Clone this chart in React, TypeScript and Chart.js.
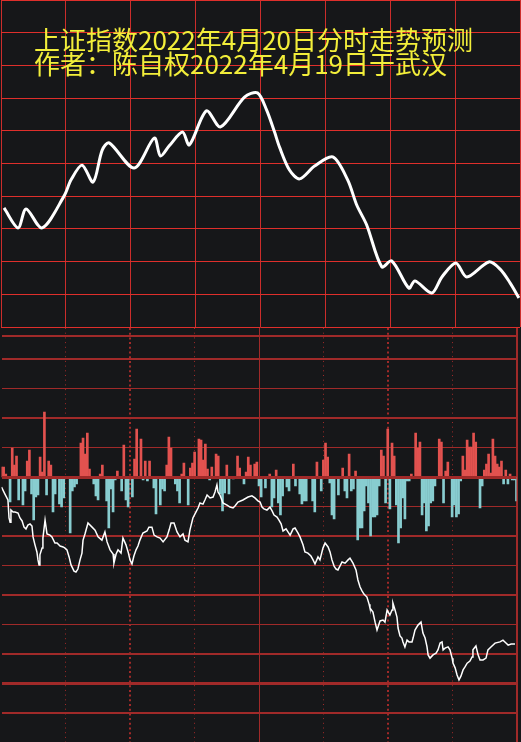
import React, { useEffect, useRef } from "react";
import { Chart, registerables } from "chart.js";

Chart.register(...registerables);

// ---------- text ----------
const titleLines = ["上证指数2022年4月20日分时走势预测", "作者：陈自权2022年4月19日于武汉"];

// ---------- top panel: forecast curve (minute of session, index points) ----------
const forecastMinutes = [1.4, 7.9, 11.6, 19.0, 29.2, 32.4, 37.5, 42.6, 46.8, 50.0, 61.6, 70.9, 73.7, 77.8, 83.9, 87.1, 95.0, 101.5, 112.6, 118.6, 122.8, 126.5, 128.8, 133.4, 138.1, 145.0, 153.4, 160.3, 164.5, 169.1, 176.1, 180.7, 188.6, 191.4, 199.2, 203.9, 210.3, 215.4, 225.6, 230.8, 235.4, 239.5];
const forecastPrices = [3186.4, 3180.3, 3186.1, 3180.3, 3190.1, 3195.0, 3199.5, 3194.3, 3204.1, 3206.3, 3198.6, 3207.8, 3202.3, 3205.4, 3209.6, 3205.7, 3216.1, 3211.2, 3220.3, 3221.6, 3216.4, 3209.6, 3205.0, 3198.0, 3195.3, 3199.2, 3202.0, 3195.0, 3187.3, 3181.2, 3168.4, 3170.2, 3161.9, 3164.1, 3160.4, 3165.3, 3169.6, 3165.3, 3169.9, 3167.7, 3163.5, 3158.9];

// ---------- bottom panel: per-minute flow bars (minute 0..240) ----------
const flowValues = [
  10, 10, 3, 0, -25, 29, 12, 21, -23, 0,
  -28, -14, 16, 27, -17, -43, -20, -18, 20, 5,
  65, -18, 16, 12, -35, -17, 0, -27, -30, -21,
  0, 0, -56, -14, -10, -7, 0, 34, 39, 23,
  44, 8, 0, -7, -19, -23, 3, 12, 0, -24,
  -51, -12, -35, -3, 6, 0, -14, 32, -23, -30,
  0, -20, 18, 48, 0, 38, -3, 16, -4, 16,
  0, -11, -37, 0, -28, -12, -14, 12, 40, 29,
  0, -7, -14, -26, 3, 14, 0, -28, 9, 14,
  25, 0, 38, 37, 17, 33, 8, -3, 10, 0,
  23, 21, -17, -34, -16, 12, -17, 0, -2, 0,
  21, 9, 0, -7, 5, 20, 12, 0, 13, 15,
  -9, -20, 0, -11, 0, 3, -30, -21, 7, -26,
  -38, -19, 0, -10, -14, 0, 13, -9, 0, -17,
  -27, -24, -24, 0, 0, -24, -35, 15, 0, -14,
  17, 34, 20, -6, -38, -42, 0, -18, 0, 9,
  -14, -21, 23, -14, -12, 6, -63, -51, -51, -34,
  -9, -26, -59, -40, -40, -38, -9, 27, 21, -26,
  48, -32, 34, 21, -28, -66, -51, -21, -42, -4,
  -4, 3, 0, 44, 29, 35, -38, -26, -54, -49,
  -26, -24, -9, 0, 38, 35, -26, 6, 15, 0,
  -40, -28, -40, -37, -4, 21, 7, 37, 30, 30,
  44, 35, 0, -31, -9, 7, 13, 23, 4, 38,
  21, 13, 10, 16, -7, 7, -7, 3, -3, -3,
  -24,
];

// ---------- bottom panel: actual index line ----------
const priceMinutes = [0, 1.6, 3.0, 3.5, 4.0, 4.4, 5.4, 6.3, 7.7, 8.6, 9.6, 10.5, 11.4, 12.3, 13.3, 14.2, 14.7, 15.6, 16.5, 17.0, 17.5, 17.9, 18.9, 19.3, 20.3, 21.2, 22.6, 23.5, 24.9, 25.9, 27.3, 28.7, 29.6, 30.5, 31.5, 32.4, 33.8, 34.7, 35.6, 36.6, 37.5, 38.0, 38.9, 40.3, 42.2, 43.6, 45.0, 46.8, 48.2, 49.2, 50.6, 52.0, 52.4, 53.4, 54.3, 55.7, 56.6, 58.0, 59.0, 59.9, 60.8, 61.7, 62.7, 63.6, 64.5, 65.9, 67.8, 68.7, 70.1, 71.1, 72.5, 73.9, 75.3, 77.1, 78.1, 79.0, 80.4, 81.8, 83.2, 84.6, 85.5, 86.9, 87.8, 89.2, 90.6, 91.6, 92.5, 93.9, 94.8, 95.8, 97.2, 98.6, 99.5, 100.4, 100.9, 101.8, 103.2, 105.1, 106.5, 107.9, 108.8, 110.2, 112.5, 114.9, 116.7, 118.1, 119.5, 120.5, 121.4, 122.3, 123.7, 125.1, 126.1, 127.0, 128.4, 129.3, 130.3, 131.2, 132.6, 133.5, 134.5, 135.9, 136.8, 138.2, 139.1, 140.5, 141.4, 142.8, 144.2, 145.2, 146.1, 147.5, 148.4, 149.8, 150.8, 152.2, 153.1, 154.0, 155.0, 155.9, 156.8, 157.7, 158.7, 160.1, 161.5, 162.4, 163.8, 165.2, 166.1, 167.1, 168.0, 168.9, 170.3, 171.3, 171.7, 173.1, 174.1, 175.0, 175.5, 176.4, 177.8, 178.7, 179.7, 181.0, 182.0, 182.4, 183.4, 184.3, 184.8, 185.7, 186.6, 187.1, 188.0, 189.0, 189.9, 191.3, 191.8, 192.7, 194.1, 195.5, 196.4, 197.4, 198.3, 198.8, 199.7, 201.1, 202.5, 203.4, 204.4, 205.3, 205.8, 206.7, 208.1, 209.0, 210.0, 210.4, 211.4, 212.3, 213.2, 214.1, 215.1, 216.0, 217.0, 218.3, 219.3, 219.7, 221.1, 222.1, 223.0, 224.4, 225.8, 226.7, 228.1, 230.0, 232.3, 233.7, 235.1, 236.1, 237.5, 239.3];
const priceValues = [3186.6, 3184.2, 3182.2, 3176.1, 3174.7, 3178.8, 3178.1, 3178.1, 3177.8, 3176.1, 3175.1, 3173.0, 3172.4, 3173.7, 3174.1, 3173.4, 3169.7, 3167.0, 3164.6, 3161.9, 3160.2, 3163.6, 3165.9, 3169.3, 3175.4, 3170.7, 3170.3, 3169.7, 3167.6, 3167.6, 3166.6, 3166.3, 3165.9, 3165.3, 3162.9, 3160.2, 3158.1, 3157.8, 3158.8, 3161.9, 3164.2, 3168.6, 3170.7, 3174.4, 3173.0, 3172.0, 3169.7, 3168.6, 3171.4, 3168.0, 3165.3, 3163.9, 3160.8, 3163.9, 3165.3, 3164.2, 3169.3, 3167.0, 3164.6, 3161.9, 3160.5, 3163.2, 3165.3, 3166.6, 3168.6, 3171.0, 3171.7, 3173.0, 3173.0, 3170.3, 3169.7, 3169.3, 3168.0, 3169.7, 3172.0, 3174.4, 3174.4, 3171.4, 3169.7, 3170.7, 3168.6, 3168.0, 3172.0, 3176.1, 3178.1, 3179.5, 3181.2, 3180.8, 3182.2, 3183.9, 3182.9, 3183.2, 3184.9, 3187.3, 3184.9, 3183.9, 3181.2, 3180.5, 3179.8, 3179.5, 3180.2, 3181.5, 3182.2, 3183.2, 3183.6, 3182.9, 3181.9, 3181.5, 3179.8, 3179.2, 3178.8, 3179.8, 3178.5, 3177.1, 3176.4, 3175.4, 3174.1, 3171.7, 3172.4, 3171.4, 3170.3, 3172.4, 3172.7, 3171.0, 3169.7, 3167.0, 3164.6, 3164.2, 3163.2, 3161.9, 3160.5, 3162.9, 3161.9, 3165.9, 3167.6, 3166.3, 3164.6, 3161.9, 3159.8, 3158.8, 3158.5, 3159.8, 3161.2, 3160.8, 3161.9, 3162.5, 3160.8, 3158.5, 3155.1, 3152.7, 3151.4, 3150.3, 3149.3, 3146.9, 3145.6, 3144.2, 3140.8, 3138.1, 3139.2, 3141.2, 3141.5, 3140.8, 3144.9, 3143.2, 3144.9, 3147.3, 3144.9, 3142.5, 3138.8, 3136.1, 3135.4, 3134.1, 3132.4, 3134.7, 3134.1, 3134.1, 3135.4, 3138.1, 3139.8, 3140.8, 3137.1, 3135.4, 3132.4, 3129.7, 3128.6, 3129.7, 3130.3, 3131.4, 3133.7, 3134.1, 3131.4, 3132.0, 3132.4, 3131.4, 3128.6, 3126.9, 3125.3, 3122.9, 3121.2, 3122.5, 3124.6, 3125.6, 3126.9, 3127.6, 3129.0, 3131.4, 3132.7, 3129.7, 3128.0, 3128.0, 3128.6, 3131.4, 3132.4, 3133.7, 3134.1, 3134.7, 3133.7, 3133.0, 3133.4, 3133.4];

// ---------- axes ----------
const SESSION_MINUTES = 240;
const TOP_PRICE_MIN = 3150;
const TOP_PRICE_MAX = 3250;
const PREV_CLOSE = 3190;
const FLOW_MIN = -265;
const FLOW_MAX = 149;
const FLOW_PER_ROW = 29.5;
const POINTS_PER_ROW = 10;
const flowGridValues = [140.5, 118, 88.5, 59, 29.5, -29.5, -59, -88.5, -118, -147.5, -177, -206.5, -236];
const flowGridWidths = [2, 2, 1, 2, 1, 1, 2, 1, 2, 1, 2, 3, 2];
const thinDottedMinutes = [30, 90, 150, 210];
const thickDottedMinutes = [60, 180];
const solidMinutes = [120, 240];

const BG = "#161719";
const GRID_BRIGHT = "#de2f2b";
const GRID_VERT = "#cc2d2b";
const GRID_DARK = "#a02a29";
const UP = "#e2524f";
const DOWN = "#88cdd0";

const hidden = { display: false };

function fixedTicks(values: number[]) {
  return (axis: any) => {
    axis.ticks = values.map((v) => ({ value: v }));
  };
}

export default function App() {
  const topRef = useRef<HTMLCanvasElement | null>(null);
  const bottomRef = useRef<HTMLCanvasElement | null>(null);

  useEffect(() => {
    const topChart = new Chart(topRef.current as HTMLCanvasElement, {
      type: "line",
      data: {
        datasets: [
          {
            data: forecastMinutes.map((m, i) => ({ x: m, y: forecastPrices[i] })),
            borderColor: "#ffffff",
            borderWidth: 3,
            pointRadius: 0,
            tension: 0.3,
            fill: false,
          },
        ],
      },
      options: {
        responsive: false,
        animation: false,
        devicePixelRatio: 1,
        layout: { padding: { left: 1, right: 1, top: 0, bottom: 1 } },
        plugins: { legend: hidden, tooltip: { enabled: false }, title: hidden },
        scales: {
          x: {
            type: "linear",
            min: 0,
            max: SESSION_MINUTES,
            ticks: { display: false, stepSize: 30 },
            grid: { color: GRID_VERT, lineWidth: 1, drawTicks: false },
            border: { display: false },
          },
          y: {
            type: "linear",
            min: TOP_PRICE_MIN,
            max: TOP_PRICE_MAX,
            ticks: { display: false, stepSize: 10 },
            grid: { color: GRID_BRIGHT, lineWidth: 1, drawTicks: false },
            border: { display: false },
          },
        },
      },
    } as any);

    const xBase = {
      type: "linear",
      min: 0,
      max: SESSION_MINUTES,
      offset: false,
      ticks: { display: false },
    };
    const yBase = {
      type: "linear",
      min: FLOW_MIN,
      max: FLOW_MAX,
      ticks: { display: false },
    };

    const bottomChart = new Chart(bottomRef.current as HTMLCanvasElement, {
      type: "bar",
      data: {
        datasets: [
          {
            type: "line",
            data: priceMinutes.map((m, i) => ({ x: m, y: priceValues[i] })),
            borderColor: "#ffffff",
            borderWidth: 1.5,
            pointRadius: 0,
            tension: 0,
            xAxisID: "x",
            yAxisID: "yp",
            order: 1,
          },
          {
            type: "bar",
            data: flowValues.map((v, i) => ({ x: i, y: v })),
            backgroundColor: (ctx: any) => ((ctx.raw && ctx.raw.y) >= 0 ? UP : DOWN),
            barThickness: 2,
            borderWidth: 0,
            xAxisID: "x",
            yAxisID: "y",
            order: 2,
          },
        ],
      },
      options: {
        responsive: false,
        animation: false,
        devicePixelRatio: 1,
        layout: { padding: { left: 1.5, right: 4.5, top: 0, bottom: 0 } },
        plugins: { legend: hidden, tooltip: { enabled: false }, title: hidden },
        scales: {
          x: {
            ...xBase,
            afterBuildTicks: fixedTicks(thinDottedMinutes),
            grid: { color: GRID_DARK, lineWidth: 1, drawTicks: false, offset: false },
            border: { display: false, dash: [1, 3.7] },
          },
          xThick: {
            ...xBase,
            position: "bottom",
            afterBuildTicks: fixedTicks(thickDottedMinutes),
            grid: { color: GRID_DARK, lineWidth: 2, drawTicks: false, offset: false },
            border: { display: false, dash: [2, 2.7] },
          },
          xSolid: {
            ...xBase,
            position: "bottom",
            afterBuildTicks: fixedTicks(solidMinutes),
            grid: {
              color: GRID_DARK,
              lineWidth: (ctx: any) => (ctx.tick && ctx.tick.value === SESSION_MINUTES ? 2 : 1),
              drawTicks: false,
              offset: false,
            },
            border: { display: false },
          },
          y: {
            ...yBase,
            afterBuildTicks: fixedTicks(flowGridValues),
            grid: {
              color: GRID_DARK,
              lineWidth: (ctx: any) => {
                const idx = flowGridValues.indexOf(ctx.tick ? ctx.tick.value : NaN);
                return idx >= 0 ? flowGridWidths[idx] : 1;
              },
              drawTicks: false,
            },
            border: { display: false },
          },
          yZero: {
            ...yBase,
            position: "left",
            afterBuildTicks: fixedTicks([0]),
            grid: { color: GRID_DARK, lineWidth: 3, drawTicks: false, z: 1 },
            border: { display: false },
          },
          yp: {
            type: "linear",
            display: false,
            min: PREV_CLOSE + (FLOW_MIN / FLOW_PER_ROW) * POINTS_PER_ROW,
            max: PREV_CLOSE + (FLOW_MAX / FLOW_PER_ROW) * POINTS_PER_ROW,
          },
        },
      },
    } as any);

    return () => {
      topChart.destroy();
      bottomChart.destroy();
    };
  }, []);

  const titleStyle: React.CSSProperties = {
    position: "absolute",
    left: 34,
    margin: 0,
    fontFamily: '"Noto Sans CJK SC", sans-serif',
    fontSize: 26,
    lineHeight: "24px",
    color: "#f2ee3a",
    whiteSpace: "nowrap",
    zIndex: 3,
  };

  return (
    <div
      style={{
        position: "absolute",
        left: 0,
        top: 0,
        width: 521,
        height: 742,
        background: BG,
        overflow: "hidden",
      }}
    >
      <canvas ref={bottomRef} width={521} height={414} style={{ position: "absolute", left: 0, top: 328, display: "block" }} />
      <canvas ref={topRef} width={521} height={328} style={{ position: "absolute", left: 0, top: 0, display: "block" }} />
      <div style={{ ...titleStyle, top: 27 }}>{titleLines[0]}</div>
      <div style={{ ...titleStyle, top: 51 }}>{titleLines[1]}</div>
    </div>
  );
}
